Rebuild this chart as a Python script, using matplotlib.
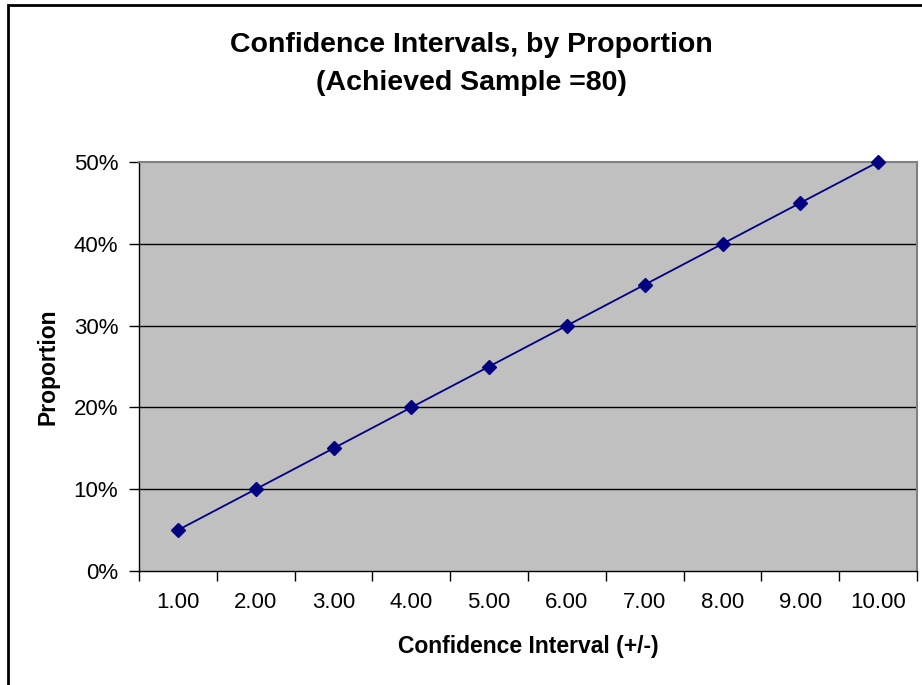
import numpy as np
import matplotlib
matplotlib.use("Agg")
import matplotlib.pyplot as plt
from matplotlib.patches import Rectangle

plt.rcParams['font.family'] = ['Liberation Sans', 'DejaVu Sans']

# data
categories = ["1.00", "2.00", "3.00", "4.00", "5.00",
              "6.00", "7.00", "8.00", "9.00", "10.00"]
proportion = [0.05, 0.10, 0.15, 0.20, 0.25, 0.30, 0.35, 0.40, 0.45, 0.50]
y_ticks = [0.0, 0.1, 0.2, 0.3, 0.4, 0.5]

fig = plt.figure(figsize=(9.22, 6.85), dpi=100)
ax = fig.add_axes([139 / 922, 1 - 571 / 685, 778 / 922, 409 / 685])

# outer chart frame (only left/top edges visible in the reference)
fig.patches.append(Rectangle((8 / 922, -0.1), 1.2, 1.1 - 5 / 685,
                             transform=fig.transFigure, fill=False,
                             edgecolor='black', linewidth=2))

x = np.arange(len(categories))
ax.set_facecolor('#C0C0C0')
ax.plot(x, proportion, color='#000080', linewidth=1.3, marker='D',
        markersize=7, markerfacecolor='#000080', markeredgecolor='#000080',
        zorder=3, clip_on=False)

ax.set_xlim(-0.5, len(categories) - 0.5)
ax.set_ylim(0, 0.5)

ax.set_yticks(y_ticks)
ax.set_yticklabels([f"{int(round(v * 100))}%" for v in y_ticks], fontsize=16)
for v in y_ticks[1:-1]:
    ax.axhline(v, color='black', linewidth=1, zorder=1)

ax.set_xticks(np.arange(-0.5, len(categories)), labels=[])
ax.set_xticks(x, minor=True)
ax.set_xticklabels(categories, minor=True, fontsize=16)
ax.tick_params(axis='x', which='minor', length=0, pad=15)
ax.tick_params(axis='x', which='major', length=7, width=1, direction='out')
ax.tick_params(axis='y', length=7, width=1, direction='out', pad=8)

for side in ['top', 'right']:
    ax.spines[side].set_color('#808080')
    ax.spines[side].set_linewidth(1.5)
for side in ['left', 'bottom']:
    ax.spines[side].set_color('black')
    ax.spines[side].set_linewidth(1)

ax.set_xlabel("Confidence Interval (+/-)", fontsize=16.5, fontweight='bold',
              labelpad=16)
ax.set_ylabel("Proportion", fontsize=16.5, fontweight='bold', labelpad=10)

fig.text(471 / 922, 1 - 45 / 685, "Confidence Intervals, by Proportion",
         ha='center', va='center', fontsize=20.5, fontweight='bold')
fig.text(471 / 922, 1 - 83 / 685, "(Achieved Sample =80)",
         ha='center', va='center', fontsize=20.5, fontweight='bold')

fig.savefig("out.png", dpi=100)
